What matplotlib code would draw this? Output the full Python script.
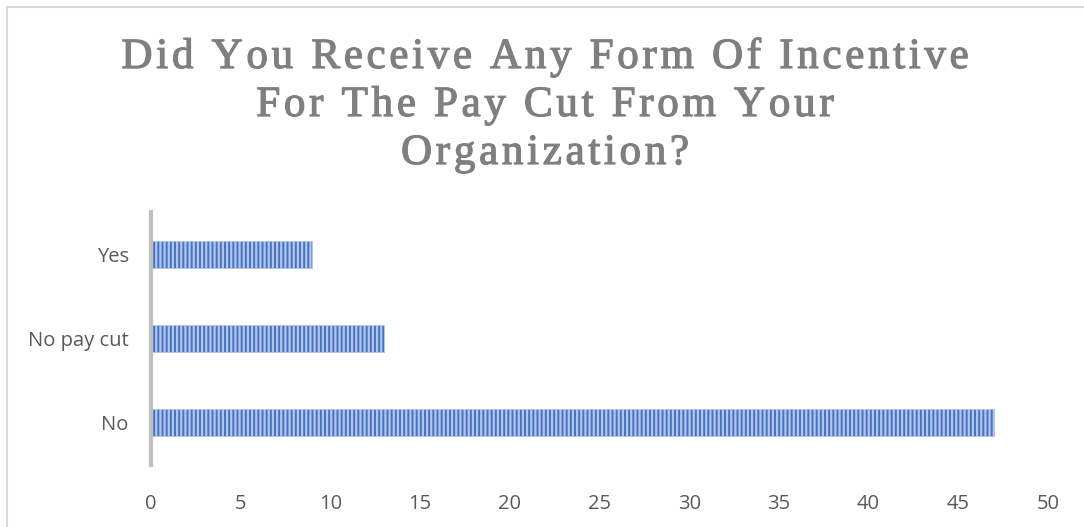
import matplotlib
matplotlib.use("Agg")
import matplotlib.pyplot as plt
import matplotlib.patheffects as pe
from matplotlib.patches import Rectangle

categories = ["No", "No pay cut", "Yes"]
counts = [47, 13, 9]
x_ticks = [0, 5, 10, 15, 20, 25, 30, 35, 40, 45, 50]
title_lines = [
    "Did You Receive Any Form Of Incentive",
    "For The Pay Cut From Your",
    "Organization?",
]

W, H = 1084, 527
plt.rcParams["hatch.color"] = "#b3c6ea"
plt.rcParams["hatch.linewidth"] = 1.6

fig = plt.figure(figsize=(W / 100, H / 100), dpi=100)
ax = fig.add_axes([151 / W, 1 - 465 / H, (1048 - 151) / W, (465 - 212) / H])

ax.barh(range(len(categories)), counts, height=0.32, color="#4472c4",
        hatch="||||", edgecolor="#b3c6ea", linewidth=0.6)

ax.set_xlim(0, 50)
ax.set_ylim(-0.5, len(categories) - 0.5)
ax.set_xticks(x_ticks)
ax.set_yticks(range(len(categories)))
ax.set_yticklabels(categories)
for side in ("top", "right", "bottom"):
    ax.spines[side].set_visible(False)
ax.spines["left"].set_color("#bfbfbf")
ax.spines["left"].set_linewidth(3)
ax.tick_params(axis="both", length=0, labelsize=14.5, labelcolor="#595959")
ax.tick_params(axis="x", pad=21)
ax.tick_params(axis="y", pad=16)
for lab in ax.get_xticklabels() + ax.get_yticklabels():
    lab.set_family("Open Sans")

# chart area border (runs off the right and bottom edges)
fig.patches.append(Rectangle((6.5 / W, -0.1), 1.2, 1.1 - 6.5 / H,
                             transform=fig.transFigure, fill=False,
                             edgecolor="#d9d9d9", linewidth=1.5))

# title with wide letter spacing: place glyphs one by one
renderer = fig.canvas.get_renderer()
title_style = dict(fontsize=31, color="#7f7f7f", family="Liberation Serif",
                   va="baseline", ha="left",
                   path_effects=[pe.withStroke(linewidth=0.9, foreground="#7f7f7f")])
tracking = 3.7  # px between glyphs


def glyph_width(ch):
    if ch == " ":
        a = fig.text(0, 0, "n n", **title_style)
        b = fig.text(0, 0, "nn", **title_style)
        w = a.get_window_extent(renderer).width - b.get_window_extent(renderer).width
        a.remove()
        b.remove()
        return w
    t = fig.text(0, 0, ch, **title_style)
    w = t.get_window_extent(renderer).width
    t.remove()
    return w


for i, line in enumerate(title_lines):
    widths = [glyph_width(ch) for ch in line]
    total = sum(widths) + tracking * (len(line) - 1)
    x = 545 - total / 2
    y = H - (68 + 48 * i)
    for ch, w in zip(line, widths):
        if ch != " ":
            fig.text(x / W, y / H, ch, **title_style)
        x += w + tracking

fig.savefig("out.png", dpi=100)
